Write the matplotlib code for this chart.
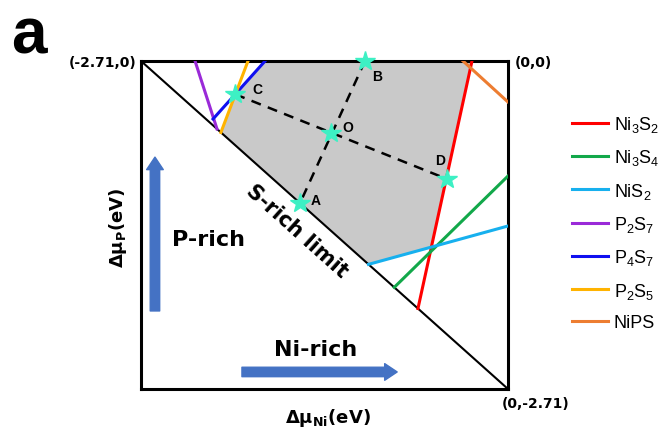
import matplotlib.pyplot as plt
import numpy as np

plt.rcParams['font.family'] = 'Liberation Sans'
plt.rcParams['mathtext.fontset'] = 'custom'
plt.rcParams['mathtext.rm'] = 'Liberation Sans'
plt.rcParams['mathtext.it'] = 'Liberation Sans:italic'
plt.rcParams['mathtext.bf'] = 'Liberation Sans:bold'

LIM = -2.71

# phase boundary segments in (dmu_Ni, dmu_P), eV
phases = ['Ni$_3$S$_2$', 'Ni$_3$S$_4$', 'NiS$_2$', 'P$_2$S$_7$', 'P$_4$S$_7$', 'P$_2$S$_5$', 'NiPS']
colors = ['#ff0000', '#12a84a', '#17b0ee', '#9a2ad8', '#1010f0', '#ffb300', '#ed7d31']
x_start = [-0.266, 0.0, 0.0, -2.311, -1.794, -1.920, -0.332]
y_start = [0.0, -0.950, -1.363, 0.0, 0.0, 0.0, 0.0]
x_end = [-0.665, -0.840, -1.030, -2.149, -2.178, -2.120, 0.0]
y_end = [-2.045, -1.870, -1.680, -0.561, -0.479, -0.590, -0.339]

# stable region of the compound
region_x = [-1.794, -0.266, -0.566, -1.030, -2.120, -2.014]
region_y = [0.0, 0.0, -1.540, -1.680, -0.590, -0.275]

# marked chemical potential points
pt_names = ['A', 'B', 'C', 'D', 'O']
pt_x = [-1.536, -1.056, -2.014, -0.450, -1.305]
pt_y = [-1.174, 0.0, -0.275, -0.975, -0.594]
pt_offset = [(11, 2), (9, -11), (16, 4), (-5, 14), (12, 4)]

BOLD = dict(family='DejaVu Sans', fontweight='bold')

fig = plt.figure(figsize=(6.68, 4.31), dpi=100)
ax = fig.add_axes([0.2111, 0.0951, 0.5494, 0.7610])
ax.set_xlim(LIM, 0)
ax.set_ylim(LIM, 0)
ax.set_xticks([])
ax.set_yticks([])
for s in ax.spines.values():
    s.set_linewidth(2.2)

ax.fill(region_x, region_y, color='#c9c9c9', lw=0, zorder=1)
ax.plot([LIM, 0], [0, LIM], color='k', lw=1.5, zorder=2)

for name, c, x0, y0, x1, y1 in zip(phases, colors, x_start, y_start, x_end, y_end):
    ax.plot([x0, x1], [y0, y1], color=c, lw=2.2, label=name, zorder=3)

# dashed paths C-D and B-A
ia, ib, ic, idd = 0, 1, 2, 3
ax.plot([pt_x[ic], pt_x[idd]], [pt_y[ic], pt_y[idd]], 'k--', lw=1.8, dashes=(4, 3), zorder=4)
ax.plot([pt_x[ib], pt_x[ia]], [pt_y[ib], pt_y[ia]], 'k--', lw=1.8, dashes=(4, 3), zorder=4)

ax.plot(pt_x, pt_y, '*', color='#3df0c4', ms=15, mec='#3df0c4', ls='none', zorder=5, clip_on=False)
for n, x, y, off in zip(pt_names, pt_x, pt_y, pt_offset):
    ax.annotate(n, (x, y), xytext=off, textcoords='offset points', ha='center', va='center',
                fontsize=10, fontweight='bold', zorder=6)

ax.text(0.425, 0.482, 'S-rich limit', transform=ax.transAxes, rotation=-41.8,
        rotation_mode='anchor', ha='center', va='center', fontsize=15, **BOLD)
ax.text(0.183, 0.457, 'P-rich', transform=ax.transAxes, ha='center', va='center',
        fontsize=16, **BOLD)
ax.text(0.477, 0.122, 'Ni-rich', transform=ax.transAxes, ha='center', va='center',
        fontsize=16, **BOLD)

arrow = dict(arrowstyle='simple,head_width=0.6,head_length=0.45,tail_width=0.34',
             color='#4472c4', shrinkA=0, shrinkB=0, mutation_scale=20)
ax.annotate('', xy=(0.038, 0.707), xytext=(0.038, 0.238), xycoords='axes fraction', arrowprops=arrow)
ax.annotate('', xy=(0.698, 0.052), xytext=(0.275, 0.052), xycoords='axes fraction', arrowprops=arrow)

fig.text(0.017, 1 - 53 / 431, 'a', fontsize=46, fontweight='bold', va='baseline')
fig.text(136 / 668, 1 - 63 / 431, '(-2.71,0)', ha='right', va='center', fontsize=10, **BOLD)
fig.text(515 / 668, 1 - 63 / 431, '(0,0)', ha='left', va='center', fontsize=10, **BOLD)
fig.text(502 / 668, 1 - 404 / 431, '(0,-2.71)', ha='left', va='center', fontsize=10, **BOLD)
fig.text(118 / 668, 1 - 228 / 431, r'Δμ$_\mathbf{P}$(eV)', rotation=90, ha='center', va='center',
         fontsize=13, math_fontfamily='dejavusans', **BOLD)
fig.text(328 / 668, 1 - 418 / 431, r'Δμ$_\mathbf{Ni}$(eV)', ha='center', va='center',
         fontsize=13, math_fontfamily='dejavusans', **BOLD)

ax.legend(loc='upper left', bbox_to_anchor=(572 / 668, 1 - 115 / 431), bbox_transform=fig.transFigure,
          frameon=False, fontsize=13, handlelength=2.0, handletextpad=0.3, labelspacing=0.74,
          borderpad=0, borderaxespad=0)

fig.savefig('out.png', dpi=100)
